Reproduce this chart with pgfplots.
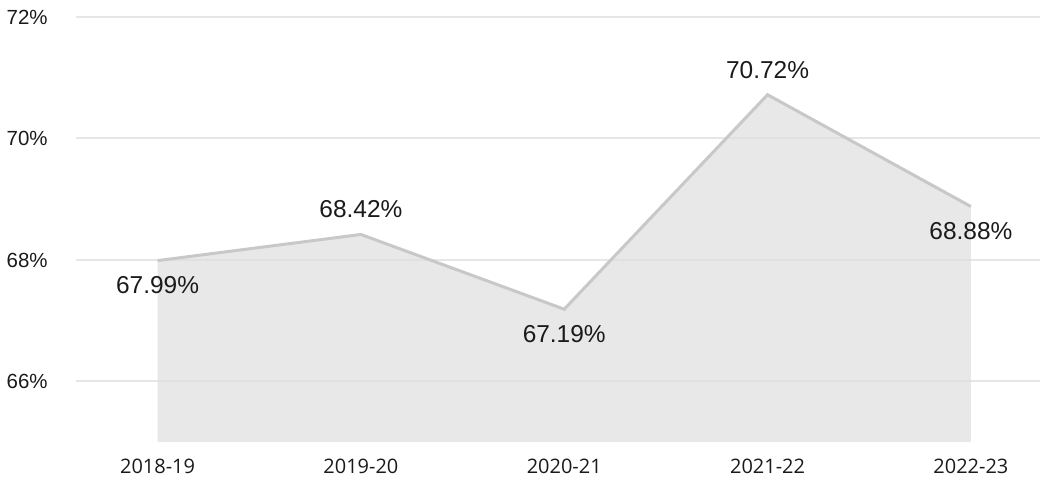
\documentclass[border=0pt]{standalone}
\usepackage{fontspec}
\setmainfont{Liberation Sans}
\newfontfamily\xfont{Open Sans}
\usepackage{pgfplots}
\usepackage{pgfplotstable}
\pgfplotsset{compat=1.18}

\definecolor{linegray}{HTML}{C8C8C8}
\definecolor{gridgray}{HTML}{E6E6E6}
\definecolor{areagray}{HTML}{DEDEDE}
\definecolor{txt}{HTML}{1A1A1A}

% pos: +1 label above the point, -1 below
\pgfplotstableread{
x y pos
0 67.99 -1
1 68.42 1
2 67.19 -1
3 70.72 1
4 68.88 -1
}\datatable

\begin{document}
\begin{tikzpicture}
\begin{axis}[
  scale only axis,
  width=483pt, height=213pt,
  xmin=-0.403, xmax=4.34,
  ymin=65, ymax=72,
  axis line style={draw=none},
  /pgf/number format/assume math mode=true,
  ymajorgrids,
  grid style={gridgray, line width=1pt},
  ytick={66,68,70,72},
  yticklabels={66\%,68\%,70\%,72\%},
  xtick={0,1,2,3,4},
  xticklabels={2018-19,2019-20,2020-21,2021-22,2022-23},
  major tick length=0pt,
  yticklabel style={font=\fontsize{10.25}{12}\selectfont, text=txt, anchor=east, xshift=-10.5pt},
  xticklabel style={font=\xfont\fontsize{10}{12}\selectfont, text=txt, anchor=north, yshift=-5pt},
  clip=false,
]
\addplot[draw=none, fill=areagray, fill opacity=0.7] table[x=x, y=y] {\datatable} \closedcycle;
\addplot[linegray, line width=1.5pt, mark=none,
  visualization depends on={\thisrow{pos} \as \lpos},
  nodes near coords={\pgfmathprintnumber[fixed,fixed zerofill,precision=2,assume math mode=true]{\pgfplotspointmeta}\%},
  point meta=explicit,
  nodes near coords style={font=\fontsize{12.25}{14}\selectfont, text=txt, anchor=center, yshift=\lpos*12.5pt},
] table[x=x, y=y, meta=y] {\datatable};
\end{axis}
\path[use as bounding box] (current axis.south west) ++(-37pt,-16.5pt) rectangle ([xshift=1.5pt,yshift=8.5pt]current axis.north east);
\end{tikzpicture}
\end{document}
